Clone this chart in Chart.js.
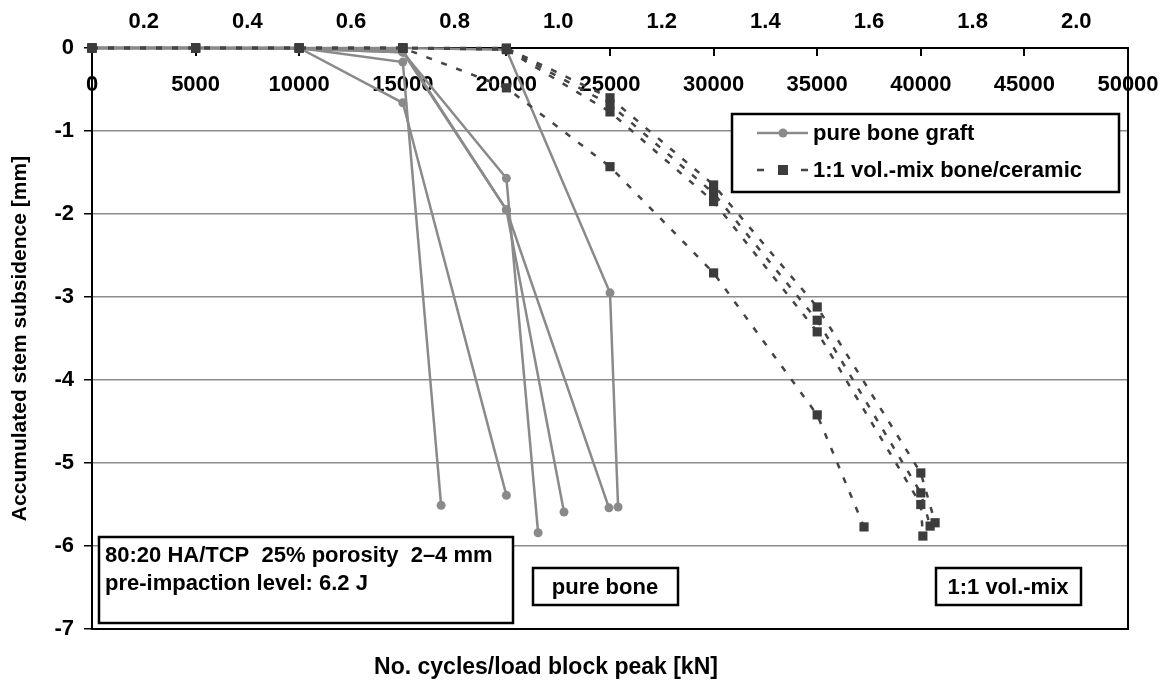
<!DOCTYPE html>
<html>
<head>
<meta charset="utf-8">
<script src="https://cdn.jsdelivr.net/npm/chart.js@4.4.1/dist/chart.umd.min.js"></script>
<style>
  html, body { margin: 0; padding: 0; background: #fff; }
</style>
</head>
<body>
<canvas id="chart" width="1168" height="685"></canvas>
<script>
// ---- data ----
const blockPeaks = ['0.2', '0.4', '0.6', '0.8', '1.0', '1.2', '1.4', '1.6', '1.8', '2.0'];

// pure bone graft, one list per specimen (cycles / subsidence in mm)
const boneCycles = [
  [0, 5000, 10000, 15000, 16850],
  [0, 5000, 10000, 15000, 20000],
  [0, 5000, 10000, 15000, 20000, 21530],
  [0, 5000, 10000, 15000, 20000, 22780],
  [0, 5000, 10000, 15000, 20000, 24950],
  [0, 5000, 10000, 15000, 20000, 25000, 25390]
];
const boneSubsidence = [
  [0, 0, 0, -0.17, -5.51],
  [0, 0, 0, -0.66, -5.39],
  [0, 0, -0.01, -0.05, -1.57, -5.84],
  [0, 0, -0.01, -0.05, -1.95, -5.59],
  [0, 0, 0, -0.03, -1.95, -5.54],
  [0, 0, 0, 0, -0.02, -2.95, -5.53]
];

// 1:1 vol.-mix bone/ceramic
const mixCycles = [
  [0, 5000, 10000, 15000, 20000, 25000, 30000, 35000, 37260],
  [0, 5000, 10000, 15000, 20000, 25000, 30000, 35000, 40000, 40690],
  [0, 5000, 10000, 15000, 20000, 25000, 30000, 35000, 40000, 40450],
  [0, 5000, 10000, 15000, 20000, 25000, 30000, 35000, 40000, 40100]
];
const mixSubsidence = [
  [0, 0, 0, 0, -0.48, -1.43, -2.71, -4.42, -5.77],
  [0, 0, 0, 0, 0, -0.6, -1.65, -3.12, -5.12, -5.72],
  [0, 0, 0, 0, -0.01, -0.68, -1.75, -3.28, -5.36, -5.76],
  [0, 0, 0, 0, -0.02, -0.77, -1.85, -3.42, -5.5, -5.88]
];

const boneLabel = 'pure bone graft';
const mixLabel = '1:1 vol.-mix bone/ceramic';
const infoLines = ['80:20 HA/TCP  25% porosity  2\u20134 mm', 'pre-impaction level: 6.2 J'];
const xTitle = 'No. cycles/load block peak [kN]';
const yTitle = 'Accumulated stem subsidence [mm]';

// ---- styles ----
const FAMILY = '"Liberation Sans", Arial, sans-serif';
const BOLD = (s) => 'bold ' + s + 'px ' + FAMILY;
const boneColor = '#8a8a8a';
const mixColor = '#3c3c3c';
const mixLine = '#444444';

const datasets = [];
mixCycles.forEach((xs, i) => {
  datasets.push({
    label: mixLabel,
    data: xs.map((x, j) => ({ x: x, y: mixSubsidence[i][j] })),
    borderColor: mixLine,
    borderWidth: 2.5,
    borderDash: [6, 10],
    pointStyle: 'rect',
    pointRadius: 6.5,
    pointBackgroundColor: mixColor,
    pointBorderWidth: 0,
    tension: 0,
    clip: false
  });
});
boneCycles.forEach((xs, i) => {
  datasets.push({
    label: boneLabel,
    data: xs.map((x, j) => ({ x: x, y: boneSubsidence[i][j] })),
    borderColor: boneColor,
    borderWidth: 2.5,
    pointStyle: 'circle',
    pointRadius: 4.5,
    pointBackgroundColor: boneColor,
    pointBorderWidth: 0,
    tension: 0,
    clip: false
  });
});

function box(ctx, x, y, w, h) {
  ctx.fillStyle = '#fff';
  ctx.fillRect(x, y, w, h);
  ctx.strokeStyle = '#000';
  ctx.lineWidth = 2.5;
  ctx.strokeRect(x, y, w, h);
}

const extras = {
  id: 'extras',
  beforeDatasetsDraw(chart) {
    const { ctx, chartArea: a } = chart;
    ctx.save();
    ctx.strokeStyle = '#000';
    ctx.lineWidth = 2;
    ctx.strokeRect(a.left, a.top, a.right - a.left, a.bottom - a.top);
    ctx.restore();
  },
  afterDraw(chart) {
    const ctx = chart.ctx;
    ctx.save();

    // legend
    box(ctx, 732, 114, 387, 78);
    ctx.font = BOLD(22);
    ctx.textBaseline = 'middle';
    ctx.textAlign = 'left';
    ctx.strokeStyle = boneColor;
    ctx.lineWidth = 2.5;
    ctx.beginPath(); ctx.moveTo(757, 133); ctx.lineTo(808, 133); ctx.stroke();
    ctx.fillStyle = boneColor;
    ctx.beginPath(); ctx.arc(783, 133, 4.5, 0, Math.PI * 2); ctx.fill();
    ctx.fillStyle = '#000';
    ctx.fillText(boneLabel, 813, 134);

    ctx.strokeStyle = mixLine;
    ctx.beginPath();
    ctx.moveTo(757, 170); ctx.lineTo(764, 170);
    ctx.moveTo(801, 170); ctx.lineTo(808, 170);
    ctx.stroke();
    ctx.fillStyle = mixColor;
    ctx.fillRect(778, 165, 10, 10);
    ctx.fillStyle = '#000';
    ctx.fillText(mixLabel, 813, 171);

    // annotation boxes
    box(ctx, 99, 537, 414, 86);
    ctx.fillStyle = '#000';
    ctx.fillText(infoLines[0], 105, 556);
    ctx.fillText(infoLines[1], 105, 584);

    ctx.textAlign = 'center';
    box(ctx, 533, 568, 145, 37);
    ctx.fillStyle = '#000';
    ctx.fillText('pure bone', 605, 588);
    box(ctx, 936, 568, 145, 37);
    ctx.fillStyle = '#000';
    ctx.fillText('1:1 vol.-mix', 1008, 588);

    // x title
    ctx.font = BOLD(23);
    ctx.fillText(xTitle, 546, 668);
    ctx.restore();
  }
};

new Chart(document.getElementById('chart'), {
  type: 'line',
  data: { datasets: datasets },
  options: {
    responsive: false,
    animation: false,
    devicePixelRatio: 1,
    layout: { padding: 0 },
    plugins: { legend: { display: false }, tooltip: { enabled: false } },
    scales: {
      x: {
        type: 'linear',
        min: 0,
        max: 50000,
        position: { y: 0 },
        ticks: {
          stepSize: 5000, color: '#000', maxRotation: 0, padding: 17,
          font: { family: FAMILY, size: 22, weight: 'bold' },
          callback: (v) => String(v)
        },
        grid: { drawOnChartArea: false, tickLength: 7, tickColor: '#000', lineWidth: 2 },
        border: { color: '#000', width: 2 },
        afterFit: (s) => { s.paddingLeft = 0; s.paddingRight = 0; }
      },
      x2: {
        axis: 'x',
        type: 'category',
        labels: blockPeaks,
        position: 'top',
        offset: true,
        grid: { display: false },
        border: { display: false },
        ticks: { color: '#000', font: { family: FAMILY, size: 22, weight: 'bold' }, padding: 5, maxRotation: 0 },
        afterFit: (s) => { s.height = 48; s.paddingLeft = 0; s.paddingRight = 0; }
      },
      xb: {
        axis: 'x',
        type: 'linear',
        position: 'bottom',
        ticks: { display: false },
        grid: { display: false },
        border: { display: false },
        afterFit: (s) => { s.height = 56; s.paddingLeft = 0; s.paddingRight = 0; }
      },
      y: {
        type: 'linear',
        min: -7,
        max: 0,
        position: 'left',
        ticks: { stepSize: 1, color: '#000', font: { family: FAMILY, size: 22, weight: 'bold' }, padding: 10 },
        grid: { color: '#8c8c8c', lineWidth: 1.5, tickLength: 8, tickColor: '#000' },
        border: { color: '#000', width: 2 },
        title: { display: true, text: yTitle, color: '#000', font: { family: FAMILY, size: 21, weight: 'bold' }, padding: { top: 8, bottom: 0 } },
        afterFit: (s) => { s.width = 92; }
      },
      yr: {
        axis: 'y',
        type: 'linear',
        position: 'right',
        ticks: { display: false },
        grid: { display: false },
        border: { display: false },
        afterFit: (s) => { s.width = 40; }
      }
    }
  },
  plugins: [extras]
});
</script>
</body>
</html>
